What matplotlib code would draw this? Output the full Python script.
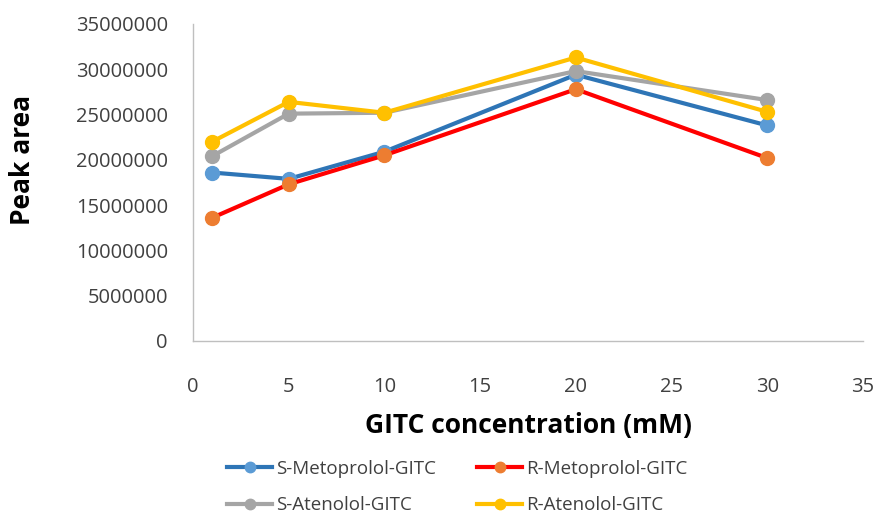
import matplotlib.pyplot as plt

plt.rcParams['font.family'] = ['Open Sans', 'DejaVu Sans']

conc = [1, 5, 10, 20, 30]
s_metoprolol = [18600000, 17900000, 20900000, 29400000, 23800000]
r_metoprolol = [13600000, 17300000, 20500000, 27800000, 20200000]
s_atenolol = [20400000, 25100000, 25200000, 29800000, 26600000]
r_atenolol = [22000000, 26400000, 25200000, 31300000, 25300000]

series = [
    ("S-Metoprolol-GITC", s_metoprolol, "#2E75B6", "#5B9BD5"),
    ("S-Atenolol-GITC", s_atenolol, "#A5A5A5", "#A5A5A5"),
    ("R-Metoprolol-GITC", r_metoprolol, "#FF0000", "#ED7D31"),
    ("R-Atenolol-GITC", r_atenolol, "#FFC000", "#FFC000"),
]

fig = plt.figure(figsize=(8.78, 5.18), dpi=100)
ax = fig.add_axes([0.2198, 0.3417, 0.763, 0.612])

# draw in excel's series order so yellow ends up on top
order = [0, 2, 1, 3]
handles = {}
for i in order:
    name, vals, lc, mc = series[i]
    h, = ax.plot(conc, vals, color=lc, lw=3, marker='o', ms=10,
                 markerfacecolor=mc, markeredgecolor=mc, label=name)
    handles[name] = h

ax.set_xlim(0, 35)
ax.set_ylim(0, 35000000)
ax.set_xticks(range(0, 36, 5))
ax.set_yticks(range(0, 35000001, 5000000))
ax.yaxis.set_major_formatter(plt.FuncFormatter(lambda v, p: "%d" % v))
ax.tick_params(length=0, labelsize=14.5, colors='#404040')
ax.tick_params(axis='y', pad=18)
ax.tick_params(axis='x', pad=26)
for s in ['top', 'right']:
    ax.spines[s].set_visible(False)
for s in ['left', 'bottom']:
    ax.spines[s].set_color('#BFBFBF')
    ax.spines[s].set_linewidth(1)

ax.set_ylabel("Peak area", fontsize=19, fontweight='bold')
ax.yaxis.set_label_coords(-0.235, 0.57)
ax.set_xlabel("GITC concentration (mM)", fontsize=19, fontweight='bold', labelpad=11)

names = [s[0] for s in series]
fig.legend([handles[n] for n in names], names, ncol=2, loc='center',
           bbox_to_anchor=(0.521, 0.06), frameon=False, fontsize=13.5,
           handlelength=2.4, handletextpad=0.2, columnspacing=2.2,
           labelspacing=1.0, labelcolor='#404040', markerscale=0.75)

fig.savefig("out.png", dpi=100)
